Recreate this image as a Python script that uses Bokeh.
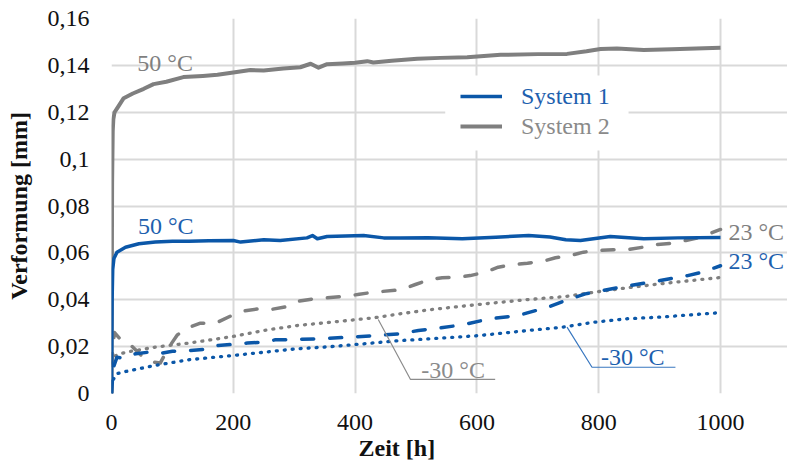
import math
from bokeh.plotting import figure
from bokeh.models import (Range1d, FixedTicker, CustomJSTickFormatter, Label,
                          Legend, LegendItem, BoxAnnotation, Title)
from bokeh.embed import file_html
from bokeh.resources import INLINE

FONT = "Liberation Serif"
BLUE = "#0b57a8"
BLUE_TXT = "#1d60ae"
BLUE_LEAD = "#3a78c0"
GRAY = "#7f7f7f"
GRAY_TXT = "#8a8a8a"

# ---------------- data ----------------
# System 2, 50 °C
s2_50_t = [0, 1, 2, 3, 5, 10, 20, 35, 53, 69, 90, 118, 150, 174, 200, 228, 250, 282,
           310, 327, 340, 354, 380, 400, 420, 430, 460, 502, 540, 584, 639, 700, 748,
           780, 803, 830, 874, 920, 1000]
s2_50_v = [0.0, 0.09, 0.112, 0.117, 0.12, 0.122, 0.126, 0.128, 0.130, 0.132, 0.133,
           0.135, 0.1355, 0.136, 0.137, 0.138, 0.1378, 0.1387, 0.1392, 0.1407, 0.139,
           0.1405, 0.1408, 0.1411, 0.1418, 0.1412, 0.142, 0.1428, 0.1432, 0.1435,
           0.1445, 0.1448, 0.1449, 0.146, 0.147, 0.1472, 0.1466, 0.1469, 0.1475]

# System 1, 50 °C
s1_50_t = [0, 1, 2, 4, 9, 23, 45, 72, 100, 127, 160, 200, 212, 250, 277, 321, 330, 338,
           354, 414, 447, 474, 520, 576, 631, 685, 720, 746, 770, 819, 874, 930, 1000]
s1_50_v = [0.0, 0.04, 0.053, 0.0576, 0.0603, 0.0624, 0.0639, 0.0646, 0.065, 0.065,
           0.0652, 0.0653, 0.0646, 0.0656, 0.0653, 0.0664, 0.0674, 0.066, 0.067, 0.0674,
           0.0664, 0.0664, 0.0665, 0.066, 0.0667, 0.0674, 0.0668, 0.0656, 0.0653, 0.067,
           0.066, 0.0664, 0.0666]

# System 2, 23 °C
s2_23_t = [0, 2, 5, 15, 30, 50, 65, 80, 95, 108, 125, 146, 171, 195, 215, 240, 261, 286,
           307, 332, 354, 379, 404, 429, 474, 499, 521, 543, 568, 589, 614, 635, 660,
           683, 708, 729, 754, 775, 798, 824, 847, 872, 896, 921, 943, 967, 1000]
s2_23_v = [0.0, 0.02, 0.026, 0.023, 0.021, 0.016, 0.0135, 0.013, 0.02, 0.025, 0.028,
           0.030, 0.030, 0.033, 0.0351, 0.0361, 0.0358, 0.037, 0.0394, 0.0404, 0.0408,
           0.0414, 0.0422, 0.0432, 0.0442, 0.0465, 0.0485, 0.0494, 0.0496, 0.0503,
           0.0518, 0.0539, 0.055, 0.0556, 0.0564, 0.0579, 0.0589, 0.0603, 0.061,
           0.0613, 0.0614, 0.0624, 0.0636, 0.0641, 0.0653, 0.0667, 0.070]

# System 1, 23 °C
s1_23_t = [0, 3, 9, 20, 40, 60, 77, 100, 127, 150, 175, 200, 223, 248, 269, 294, 340,
           387, 433, 474, 504, 529, 576, 622, 668, 716, 746, 778, 808, 852, 901, 946,
           970, 1000]
s1_23_v = [0.0, 0.011, 0.0155, 0.015, 0.017, 0.0176, 0.017, 0.018, 0.0183, 0.0188,
           0.0205, 0.021, 0.0215, 0.0219, 0.0229, 0.023, 0.0233, 0.024, 0.0247, 0.0255,
           0.0269, 0.0276, 0.0293, 0.0319, 0.0333, 0.0368, 0.0397, 0.0425, 0.044,
           0.0461, 0.0482, 0.0503, 0.0518, 0.0545]

# System 2, -30 °C
s2_m30_t = [2, 5, 23, 72, 127, 199, 250, 305, 360, 431, 474, 521, 603, 685, 746, 792,
            847, 901, 1000]
s2_m30_v = [0.013, 0.016, 0.0176, 0.0198, 0.0215, 0.0243, 0.0269, 0.029, 0.0304,
            0.0323, 0.034, 0.0357, 0.038, 0.0401, 0.0414, 0.0432, 0.0451, 0.0468, 0.0495]

# System 1, -30 °C
s1_m30_t = [3, 9, 18, 72, 127, 199, 250, 305, 360, 414, 474, 521, 603, 685, 741, 792,
            847, 901, 1000]
s1_m30_v = [0.006, 0.0085, 0.0091, 0.012, 0.0144, 0.0162, 0.0176, 0.0191, 0.02, 0.0212,
            0.0226, 0.0233, 0.0247, 0.0269, 0.0283, 0.0304, 0.0319, 0.0326, 0.0345]

# annotation leader lines
lead_s2_t = [438, 491, 630]
lead_s2_v = [0.0316, 0.006, 0.006]
lead_s1_t = [748, 789, 926]
lead_s1_v = [0.0283, 0.0112, 0.0112]

# annotation labels
ann_text = ["50 °C", "50 °C", "23 °C", "23 °C", "-30 °C", "-30 °C"]
ann_t = [88, 89, 1013, 1013, 561, 856]
ann_v = [0.1412, 0.0713, 0.0689, 0.0567, 0.0102, 0.0156]
ann_color = [GRAY, BLUE_TXT, GRAY, BLUE_TXT, GRAY_TXT, BLUE_TXT]
ann_align = ["center", "center", "left", "left", "center", "center"]

x_ticks = [0, 200, 400, 600, 800, 1000]
y_ticks = [0, 0.02, 0.04, 0.06, 0.08, 0.1, 0.12, 0.14, 0.16]
x_title = "Zeit [h]"
y_title = "Verformung [mm]"
legend_labels = ["System 1", "System 2"]

X_MAX = 1000
X_VIEW_END = 1110   # frame continues right of the last gridline (room for labels)

# ---------------- figure ----------------
p = figure(width=787, height=468, output_backend="svg", toolbar_location=None,
           x_range=Range1d(0, X_VIEW_END), y_range=Range1d(0, 0.16),
           min_border_left=111, min_border_right=0, min_border_top=18,
           min_border_bottom=75)
p.background_fill_color = "white"
p.border_fill_color = "white"
p.outline_line_color = None

for ax in (p.xaxis[0], p.yaxis[0]):
    ax.axis_line_color = None
    ax.major_tick_line_color = None
    ax.minor_tick_line_color = None
    ax.major_label_text_font = FONT
    ax.major_label_text_font_size = "24px"
    ax.major_label_text_color = "#111111"

p.xaxis[0].ticker = FixedTicker(ticks=x_ticks)
p.yaxis[0].ticker = FixedTicker(ticks=y_ticks)
p.xaxis[0].major_label_standoff = 15
p.yaxis[0].major_label_standoff = 16
p.yaxis[0].formatter = CustomJSTickFormatter(code="""
let s = tick.toFixed(2);
s = s.replace(/0+$/, '');
s = s.replace(/\\.$/, '');
return s.replace('.', ',');
""")

# y axis title
p.yaxis[0].axis_label = y_title
p.yaxis[0].axis_label_standoff = 13
p.yaxis[0].axis_label_text_font = FONT
p.yaxis[0].axis_label_text_font_size = "24px"
p.yaxis[0].axis_label_text_font_style = "bold"
p.yaxis[0].axis_label_text_color = "#111111"

# x axis title (below the tick labels, left-aligned from the frame)
p.add_layout(Title(text=x_title, align="left", offset=247, standoff=0,
                   text_font=FONT, text_font_size="24px", text_font_style="bold",
                   text_color="#111111"), "below")

p.xgrid.grid_line_color = "#d9d9d9"
p.ygrid.grid_line_color = "#d9d9d9"
p.xgrid.grid_line_width = 2
p.ygrid.grid_line_width = 2
p.ygrid.bounds = (0, X_MAX)

# series (System 2 first, System 1 on top)
p.line(s2_m30_t, s2_m30_v, line_color=GRAY, line_width=3.3, line_dash="1 7",
       line_cap="round")
p.line(s2_23_t, s2_23_v, line_color=GRAY, line_width=3.5, line_dash="12 16",
       line_cap="round", line_join="round")
r_s2 = p.line(s2_50_t, s2_50_v, line_color=GRAY, line_width=4, line_join="round")
p.line(s1_m30_t, s1_m30_v, line_color=BLUE, line_width=3.3, line_dash="1 7",
       line_cap="round")
p.line(s1_23_t, s1_23_v, line_color=BLUE, line_width=3.5, line_dash="12 16",
       line_cap="round", line_join="round")
r_s1 = p.line(s1_50_t, s1_50_v, line_color=BLUE, line_width=3.5, line_join="round")

# leader lines
p.line(lead_s2_t, lead_s2_v, line_color="#8c8c8c", line_width=1.2)
p.line(lead_s1_t, lead_s1_v, line_color=BLUE_LEAD, line_width=1.2)

# annotation labels
for txt, t, v, c, a in zip(ann_text, ann_t, ann_v, ann_color, ann_align):
    p.add_layout(Label(x=t, y=v, text=txt, text_color=c, text_font=FONT,
                       text_font_size="24px", text_align=a, text_baseline="middle"))

# legend background and legends
p.add_layout(BoxAnnotation(left=548, right=849, bottom=0.1037, top=0.1357,
                           fill_color="white", fill_alpha=1, line_color=None))
leg_common = dict(padding=0, margin=0, glyph_width=42, glyph_height=30,
                  label_height=30, label_standoff=19, label_text_font=FONT,
                  label_text_font_size="24px", background_fill_alpha=0,
                  border_line_color=None, spacing=0)
leg1 = Legend(items=[LegendItem(label=legend_labels[0], renderers=[r_s1])],
              location=(349, 282), label_text_color=BLUE_TXT, **leg_common)
leg2 = Legend(items=[LegendItem(label=legend_labels[1], renderers=[r_s2])],
              location=(349, 252), label_text_color=GRAY_TXT, **leg_common)
p.add_layout(leg1)
p.add_layout(leg2)

open("out.html", "w").write(file_html(p, INLINE))
